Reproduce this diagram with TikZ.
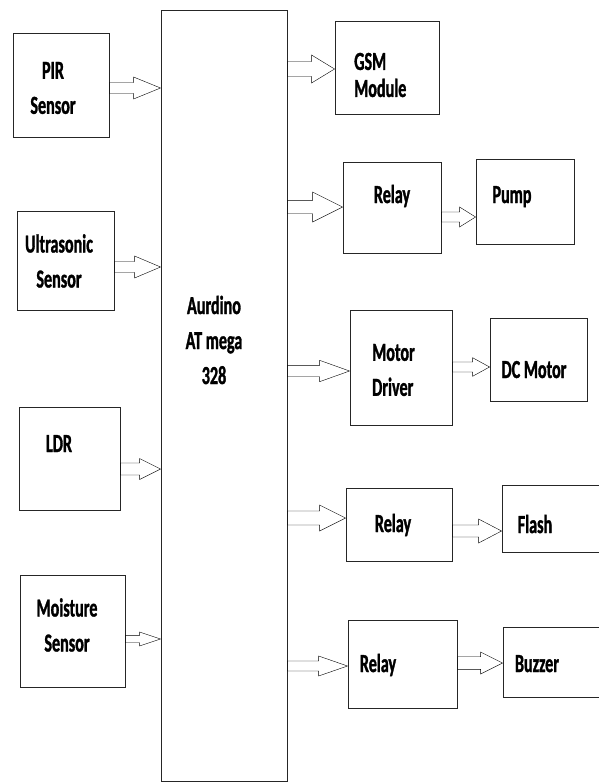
\documentclass[tikz,border=0pt]{standalone}
\usepackage{fontspec}
\newfontfamily\blockfont[FakeStretch=0.62, FakeBold=1.2]{Carlito}
\usetikzlibrary{calc}

\begin{document}
\begin{tikzpicture}[
    x=1pt, y=-1pt,
    block/.style={draw=black!85, line width=0.9pt, inner sep=0pt},
    txt/.style={font=\blockfont\bfseries\fontsize{26}{35}\selectfont, align=center, inner sep=0pt},
    fat/.style n args={3}{draw=black, line width=0.9pt, to path={
        let \p1=(\tikztostart), \p2=(\tikztotarget) in
        (\x1,\y1+#1) -- (\x2-#3,\y1+#1) -- (\x2-#3,\y1+#2) -- (\x2,\y1)
        -- (\x2-#3,\y1-#2) -- (\x2-#3,\y1-#1) -- (\x1,\y1-#1) -- cycle}}
]
\useasboundingbox (0,0) rectangle (598,782);

% -------------------------
% BLOCKS
% -------------------------
\node[block, minimum width=126pt, minimum height=771pt] (mcu) at (224,395.5) {};
\node[txt] (mcu-t) at (214,340) {Aurdino\\AT mega\\328};

% sensors (inputs)
\node[block, minimum width=96pt, minimum height=104pt] (pir) at (61,85) {};
\node[txt] (pir-t) at (53,88) {PIR\\Sensor};

\node[block, minimum width=97pt, minimum height=99pt] (ultra) at (65.5,260.5) {};
\node[txt] (ultra-t) at (59,261) {Ultrasonic\\Sensor};

\node[block, minimum width=101pt, minimum height=103pt] (ldr) at (69.5,458.5) {};
\node[txt, anchor=base] (ldr-t) at (59,452) {LDR};

\node[block, minimum width=105pt, minimum height=112pt] (moist) at (72.5,631) {};
\node[txt] (moist-t) at (67,625) {Moisture\\Sensor};

% outputs
\node[block, minimum width=104pt, minimum height=93pt] (gsm) at (387,67.5) {};
\node[txt, align=left, anchor=west, font=\blockfont\bfseries\fontsize{26}{27}\selectfont] (gsm-t) at (354,75) {GSM\\Module};

\node[block, minimum width=98pt, minimum height=91pt] (relayA) at (392,207.5) {};
\node[txt, anchor=base] (relayA-t) at (392,203) {Relay};
\node[block, minimum width=98pt, minimum height=85pt] (pump) at (525,201.5) {};
\node[txt, anchor=base] (pump-t) at (512,203) {Pump};

\node[block, minimum width=102pt, minimum height=115pt] (driver) at (401,367.5) {};
\node[txt, align=left, anchor=west] (driver-t) at (372,370) {Motor\\Driver};
\node[block, minimum width=97pt, minimum height=83pt] (dcm) at (538.5,359.5) {};
\node[txt, anchor=base] (dcm-t) at (534,378) {DC Motor};

\node[block, minimum width=106pt, minimum height=73pt] (relayB) at (399,524.5) {};
\node[txt, anchor=base] (relayB-t) at (393,532) {Relay};
\node[block, minimum width=108pt, minimum height=67pt] (flash) at (556,518.5) {};
\node[txt, anchor=base] (flash-t) at (535,533) {Flash};

\node[block, minimum width=109pt, minimum height=88pt] (relayC) at (402.5,664) {};
\node[txt, anchor=base] (relayC-t) at (378,672) {Relay};
\node[block, minimum width=107pt, minimum height=70pt] (buzz) at (556.5,662) {};
\node[txt, anchor=base] (buzz-t) at (537,672) {Buzzer};

% -------------------------
% LINKS
% -------------------------
% sensors into the controller
\draw (pir.east |- 0,88) to[fat={5.5}{11}{27}] (mcu.west);
\draw (ultra.east |- 0,267) to[fat={5.5}{11}{26}] (mcu.west);
\draw (ldr.east |- 0,469) to[fat={6}{10.5}{21}] (mcu.west);
\draw (moist.east |- 0,639) to[fat={3.7}{7}{21}] (mcu.west);

% controller to the drivers
\draw (mcu.east |- 0,69) to[fat={7.5}{14}{23}] (gsm.west);
\draw (mcu.east |- 0,207) to[fat={6.7}{15}{30}] (relayA.west);
\draw (mcu.east |- 0,371) to[fat={5.7}{10.7}{30}] (driver.west);
\draw (mcu.east |- 0,518) to[fat={7}{13}{26}] (relayB.west);
\draw (mcu.east |- 0,666) to[fat={5}{10}{29}] (relayC.west);

% drivers to the loads
\draw (relayA.east |- 0,217) to[fat={5}{10}{16}] (pump.west);
\draw (driver.east |- 0,367) to[fat={5}{9.3}{17}] (dcm.west);
\draw (relayB.east |- 0,531) to[fat={6}{12}{23}] (flash.west);
\draw (relayC.east |- 0,663) to[fat={6.3}{11}{22}] (buzz.west);

\end{tikzpicture}
\end{document}
